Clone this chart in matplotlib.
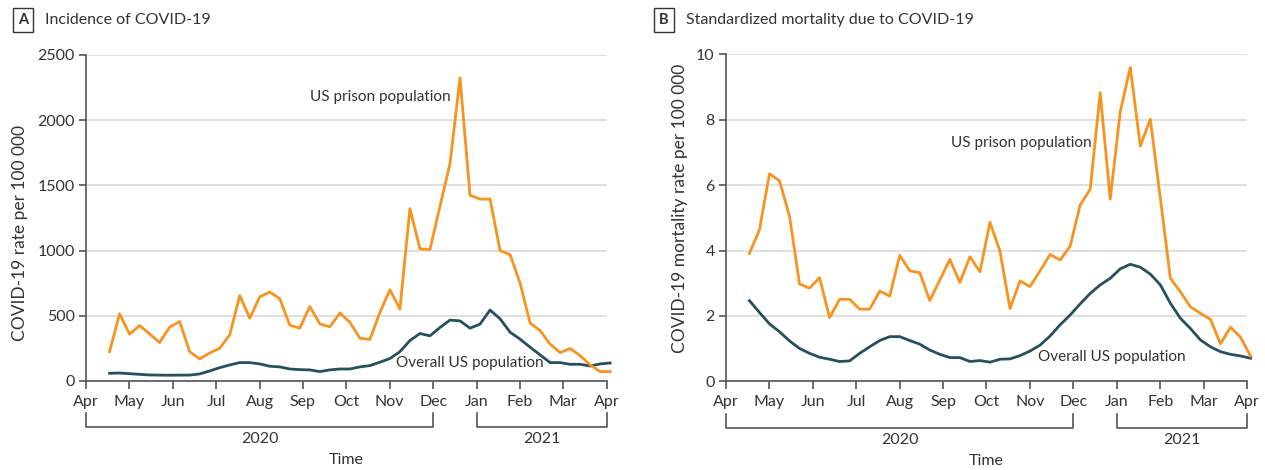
import numpy as np
import matplotlib
matplotlib.use("Agg")
import matplotlib.pyplot as plt
from matplotlib.transforms import blended_transform_factory

plt.rcParams['font.family'] = ['Lato', 'DejaVu Sans']

months = ["Apr", "May", "Jun", "Jul", "Aug", "Sep", "Oct", "Nov", "Dec",
          "Jan", "Feb", "Mar", "Apr"]
years = ["2020", "2021"]

# Weekly values, first week starting about 2.35 weeks after 1 Apr 2020
inc_prison = [225, 515, 359, 425, 361, 295, 413, 456, 225, 169, 215, 251, 354, 655, 482, 645,
              682, 631, 428, 405, 571, 438, 415, 521, 451, 328, 318, 525, 700, 551, 1322, 1013, 1008,
              1340, 1667, 2325, 1424, 1395, 1395, 1000,
              969, 752, 444, 387, 282, 218, 249, 195, 123, 72, 72]
inc_us = [59, 61, 56, 51, 46, 45, 44, 45, 45, 54, 77, 102, 123, 141, 141, 131,
          113, 108, 92, 87, 85, 72, 85, 92, 92, 108, 118, 144, 172, 225, 310, 364, 346,
          410, 467, 461, 405, 436, 544, 477,
          374, 321, 259, 200, 141, 141, 128, 128, 115, 131, 138]
mort_prison = [3.91, 4.63, 6.34, 6.13, 5.05, 2.98, 2.85, 3.17, 1.95, 2.51, 2.51, 2.21, 2.21, 2.76, 2.61,
               3.85, 3.38, 3.32, 2.47, 3.10, 3.73, 3.02, 3.81, 3.35, 4.86, 3.98, 2.23, 3.07, 2.90,
               3.38, 3.88, 3.71, 4.13, 5.39, 5.87, 8.82, 5.57, 8.24, 9.59, 7.19, 8.01, 5.6,
               3.15, 2.74, 2.28, 2.08, 1.90, 1.15, 1.66, 1.35, 0.78]
mort_us = [2.47, 2.11, 1.76, 1.52, 1.24, 1.01, 0.86, 0.74, 0.68, 0.61, 0.63, 0.86, 1.06, 1.25, 1.37, 1.37,
           1.25, 1.14, 0.96, 0.83, 0.73, 0.73, 0.61, 0.64, 0.59, 0.68, 0.69, 0.79, 0.93, 1.11, 1.39, 1.73,
           2.03, 2.37, 2.69, 2.95, 3.15, 3.44, 3.58, 3.49, 3.28, 2.95, 2.39, 1.93, 1.62, 1.27, 1.06,
           0.91, 0.83, 0.78, 0.71]

weeks = 2.35 + np.arange(len(inc_prison))
month_pos = np.arange(13) * 52 / 12

ORANGE = "#F7931E"
TEAL = "#27505E"
GRID = "#DADADA"
AXC = "#555555"
TXT = "#333333"
FS = 11.5

fig = plt.figure(figsize=(12.65, 4.70), dpi=100)
axA = fig.add_axes([0.0680, 0.1894, 0.4116, 0.6936])
axB = fig.add_axes([0.5738, 0.1883, 0.4120, 0.6968])

def style(ax, ymax, yticks, ylabel, ylab_x, ylab_y):
    ax.set_xlim(0, 52)
    ax.set_ylim(0, ymax)
    ax.set_yticks(yticks)
    ax.set_xticks(month_pos)
    ax.set_xticklabels(months)
    for s in ["top", "right"]:
        ax.spines[s].set_visible(False)
    for s in ["left", "bottom"]:
        ax.spines[s].set_color(AXC)
        ax.spines[s].set_linewidth(1.2)
    ax.grid(axis="y", color=GRID, linewidth=1.2)
    ax.set_axisbelow(True)
    ax.tick_params(axis="both", colors=AXC, labelcolor=TXT, labelsize=FS, width=1.2)
    ax.tick_params(axis="x", length=6, pad=4)
    ax.tick_params(axis="y", length=5, pad=3)
    ax.set_ylabel(ylabel, fontsize=12.5, color=TXT)
    ax.yaxis.set_label_coords(ylab_x, ylab_y)
    tr = blended_transform_factory(ax.transData, ax.transAxes)
    spans = [(month_pos[0], month_pos[8]), (month_pos[9], month_pos[12])]
    for (a, b), yl in zip(spans, years):
        ax.plot([a, a, b, b], [-0.098, -0.141, -0.141, -0.098], color=AXC, lw=1.2,
                transform=tr, clip_on=False)
        ax.text((a + b) / 2, -0.178, yl, transform=tr, ha="center", va="center",
                fontsize=FS, color=TXT)
    ax.text(26, -0.242, "Time", transform=tr, ha="center", va="center",
            fontsize=FS, color=TXT)

style(axA, 2500, [0, 500, 1000, 1500, 2000, 2500], "COVID-19 rate per 100 000", -0.111, 0.455)
style(axB, 10, [0, 2, 4, 6, 8, 10], "COVID-19 mortality rate per 100 000", -0.073, 0.53)

axA.plot(weeks, inc_us, color=TEAL, lw=2.0, clip_on=False, zorder=3)
axA.plot(weeks, inc_prison, color=ORANGE, lw=2.0, clip_on=False, zorder=4)
axB.plot(weeks, mort_us, color=TEAL, lw=2.0, clip_on=False, zorder=3)
axB.plot(weeks, mort_prison, color=ORANGE, lw=2.0, clip_on=False, zorder=4)

ANN = 11
axA.text(22.4, 2177, "US prison population", fontsize=ANN, color=TXT, va="center")
axA.text(31.0, 138, "Overall US population", fontsize=ANN, color=TXT, va="center")
axB.text(22.5, 7.28, "US prison population", fontsize=ANN, color=TXT, va="center")
axB.text(31.1, 0.75, "Overall US population", fontsize=ANN, color=TXT, va="center")

def panel_title(x, letter, title):
    fig.text(x, 1 - 20 / 470, letter, fontsize=10.5, fontweight="bold", color=TXT,
             ha="center", va="center",
             bbox=dict(boxstyle="square,pad=0.35", fc="white", ec=TXT, lw=1.0))
    fig.text(x + 22 / 1265, 1 - 20 / 470, title, fontsize=11.5, color=TXT,
             ha="left", va="center")

panel_title(23 / 1265, "A", "Incidence of COVID-19")
panel_title(664 / 1265, "B", "Standardized mortality due to COVID-19")

fig.savefig("out.png", dpi=100)
